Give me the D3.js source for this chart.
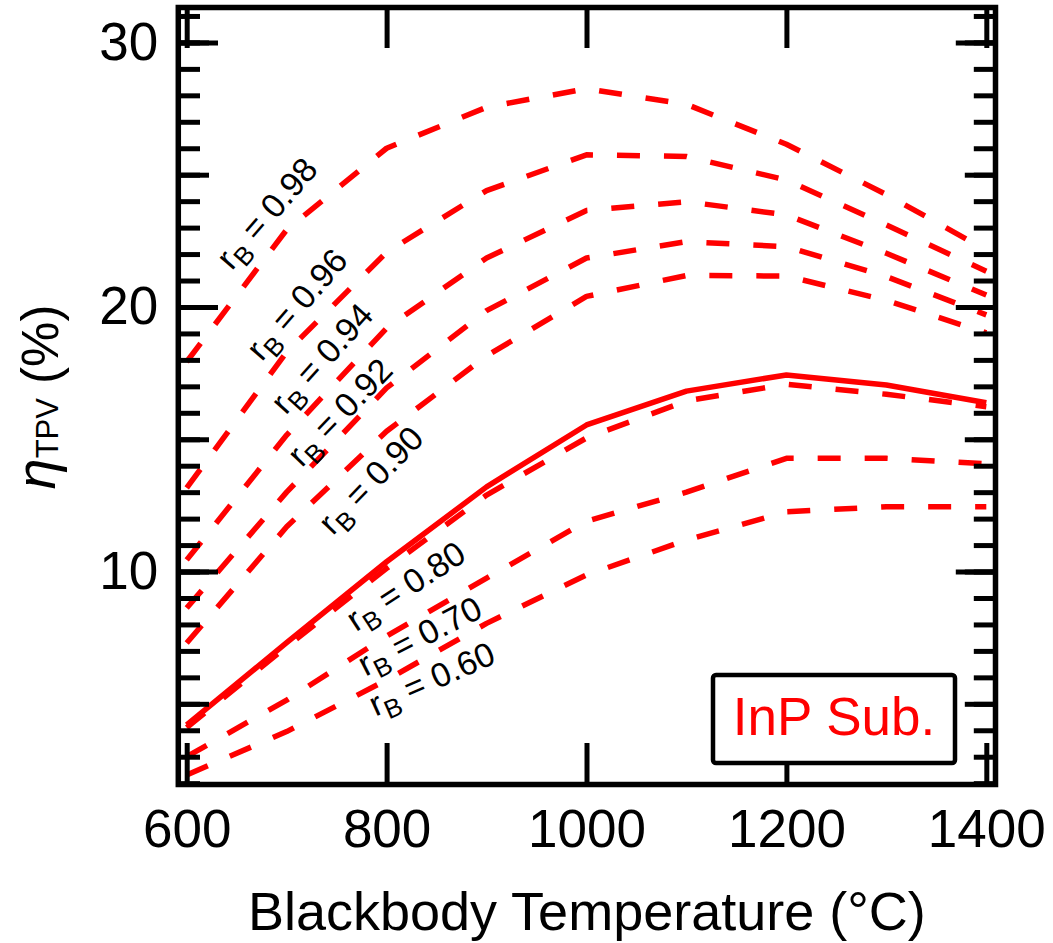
<!DOCTYPE html>
<html>
<head>
<meta charset="utf-8">
<script src="https://cdn.jsdelivr.net/npm/d3@7"></script>
<style>
  html, body { margin: 0; padding: 0; background: #fff; }
  svg { display: block; }
  text { font-family: "Liberation Sans", Arial, Helvetica, sans-serif; }
</style>
</head>
<body>
<svg id="chart" width="1053" height="943"></svg>
<script>
// Blackbody temperatures (°C)
const temps = [600, 700, 800, 900, 1000, 1100, 1200, 1300, 1400];

// TPV efficiency (%) for each back-reflectance rB (dashed curves)
const rBLabels = ["0.98", "0.96", "0.94", "0.92", "0.90", "0.80", "0.70", "0.60"];
const eff098 = [17.93, 22.92, 26.00, 27.55, 28.25, 27.66, 26.15, 24.25, 22.15];
const eff096 = [13.16, 18.30, 22.07, 24.40, 25.75, 25.69, 24.80, 23.10, 21.35];
const eff094 = [10.44, 15.16, 19.20, 21.85, 23.65, 23.98, 23.48, 22.03, 20.45];
const eff092 = [8.62, 13.00, 16.94, 19.86, 21.85, 22.47, 22.28, 21.15, 19.70];
const eff090 = [7.30, 11.69, 15.30, 18.15, 20.40, 21.19, 21.17, 20.25, 19.02];
const eff080 = [4.10, 7.16, 10.12, 12.89, 15.05, 16.45, 17.08, 16.70, 16.23];
const eff070 = [3.00, 5.14, 7.56, 9.75, 11.90, 13.00, 14.28, 14.28, 14.07];
const eff060 = [2.31, 3.95, 5.90, 8.04, 9.87, 11.19, 12.26, 12.45, 12.45];
// Reference curve (solid)
const effSolid = [4.20, 7.31, 10.37, 13.20, 15.54, 16.82, 17.43, 17.05, 16.38];

// Axis tick values
const xTicks = [600, 800, 1000, 1200, 1400];
const yTickLabels = [10, 20, 30];

const dashedSeries = [eff098, eff096, eff094, eff092, eff090, eff080, eff070, eff060];

// Where each rB label sits (data units) and its rotation
const labelAnchors = [
  { t: 680, v: 23.55, angle: -49 },
  { t: 710, v: 20.11, angle: -49 },
  { t: 735, v: 18.07, angle: -48 },
  { t: 753, v: 16.03, angle: -46 },
  { t: 784, v: 13.46, angle: -46 },
  { t: 819, v: 9.46, angle: -33 },
  { t: 833, v: 7.57, angle: -27 },
  { t: 845, v: 5.95, angle: -24 }
];

const svg = d3.select("#chart");
const RED = "#ff0000";

const plotLeft = 178.3, plotRight = 995.5, plotTop = 7.5, plotBottom = 784.5;
const x = d3.scaleLinear().domain([591.6, 1409.2]).range([plotLeft, plotRight]);
const y = d3.scaleLinear().domain([1.95, 31.32]).range([plotBottom, plotTop]);

const line = d3.line()
  .x((d, i) => x(temps[i]))
  .y(d => y(d));

const plot = svg.append("g");

// dashed efficiency curves
plot.selectAll("path.dashed")
  .data(dashedSeries)
  .join("path")
  .attr("class", "dashed")
  .attr("d", line)
  .attr("fill", "none")
  .attr("stroke", RED)
  .attr("stroke-width", 5.5)
  .attr("stroke-dasharray", "23,24")
  .attr("stroke-linejoin", "round");

// solid reference curve
plot.append("path")
  .attr("d", line(effSolid))
  .attr("fill", "none")
  .attr("stroke", RED)
  .attr("stroke-width", 5.5)
  .attr("stroke-linejoin", "round");

// axes: inward ticks on all four sides
function styleAxis(g) {
  g.select(".domain").remove();
  g.selectAll(".tick line").attr("stroke", "#000").attr("stroke-width", 5);
  g.selectAll(".tick text")
    .attr("fill", "#000")
    .style("font-size", "53px")
    .style("font-family", "'Liberation Sans', Arial, Helvetica, sans-serif");
}

const yMinor = d3.range(2, 32, 1);
const yMid = d3.range(5, 31, 5);

// left axis, three tick lengths
svg.append("g").attr("transform", `translate(${plotLeft},0)`)
  .call(d3.axisLeft(y).tickValues(yMinor).tickSize(-21.7).tickFormat(""))
  .call(styleAxis);
svg.append("g").attr("transform", `translate(${plotLeft},0)`)
  .call(d3.axisLeft(y).tickValues(yMid).tickSize(-30.7).tickFormat(""))
  .call(styleAxis);
svg.append("g").attr("transform", `translate(${plotLeft},0)`)
  .call(d3.axisLeft(y).tickValues(yTickLabels).tickSize(-39.7).tickPadding(20).tickFormat(d3.format("d")))
  .call(styleAxis);

// right axis
svg.append("g").attr("transform", `translate(${plotRight},0)`)
  .call(d3.axisRight(y).tickValues(yMinor).tickSize(-21.7).tickFormat(""))
  .call(styleAxis);
svg.append("g").attr("transform", `translate(${plotRight},0)`)
  .call(d3.axisRight(y).tickValues(yMid).tickSize(-30.7).tickFormat(""))
  .call(styleAxis);
svg.append("g").attr("transform", `translate(${plotRight},0)`)
  .call(d3.axisRight(y).tickValues(yTickLabels).tickSize(-39.7).tickFormat(""))
  .call(styleAxis);

// bottom and top axes
svg.append("g").attr("transform", `translate(0,${plotBottom})`)
  .call(d3.axisBottom(x).tickValues(xTicks).tickSize(-41.5).tickPadding(25).tickFormat(d3.format("d")))
  .call(styleAxis);
svg.append("g").attr("transform", `translate(0,${plotTop})`)
  .call(d3.axisTop(x).tickValues(xTicks).tickSize(-40.5).tickFormat(""))
  .call(styleAxis);

// frame
svg.append("rect")
  .attr("x", plotLeft).attr("y", plotTop)
  .attr("width", plotRight - plotLeft).attr("height", plotBottom - plotTop)
  .attr("fill", "none")
  .attr("stroke", "#000")
  .attr("stroke-width", 5.5);

// rB labels
labelAnchors.forEach((a, i) => {
  const t = svg.append("text")
    .attr("transform", `translate(${x(a.t)},${y(a.v)}) rotate(${a.angle})`)
    .attr("text-anchor", "middle")
    .attr("dy", "0.35em")
    .style("font-size", "34px")
    .attr("fill", "#000");
  t.append("tspan").text("r");
  t.append("tspan").attr("dy", 8).style("font-size", "26px").text("B");
  t.append("tspan").attr("dy", -8).text(" = " + rBLabels[i]);
});

// x axis title
svg.append("text")
  .attr("x", (plotLeft + plotRight) / 2)
  .attr("y", 930)
  .attr("text-anchor", "middle")
  .style("font-size", "54px")
  .attr("fill", "#000")
  .text("Blackbody Temperature (\u00B0C)");

// y axis title
const yt = svg.append("text")
  .attr("transform", `translate(58,397) rotate(-90)`)
  .attr("text-anchor", "middle")
  .style("font-size", "51px")
  .attr("fill", "#000");
yt.append("tspan").style("font-style", "italic").style("font-size", "56px").attr("dy", -3).text("\u03B7");
yt.append("tspan").style("font-size", "31px").attr("dy", 3).text("TPV");
yt.append("tspan").text(" (%)");

// substrate tag
svg.append("rect")
  .attr("x", 713).attr("y", 675)
  .attr("width", 242).attr("height", 88)
  .attr("rx", 3)
  .attr("fill", "#fff")
  .attr("stroke", "#000")
  .attr("stroke-width", 4.5);
svg.append("text")
  .attr("x", 834).attr("y", 735)
  .attr("text-anchor", "middle")
  .style("font-size", "53px")
  .attr("fill", RED)
  .text("InP Sub.");
</script>
</body>
</html>
